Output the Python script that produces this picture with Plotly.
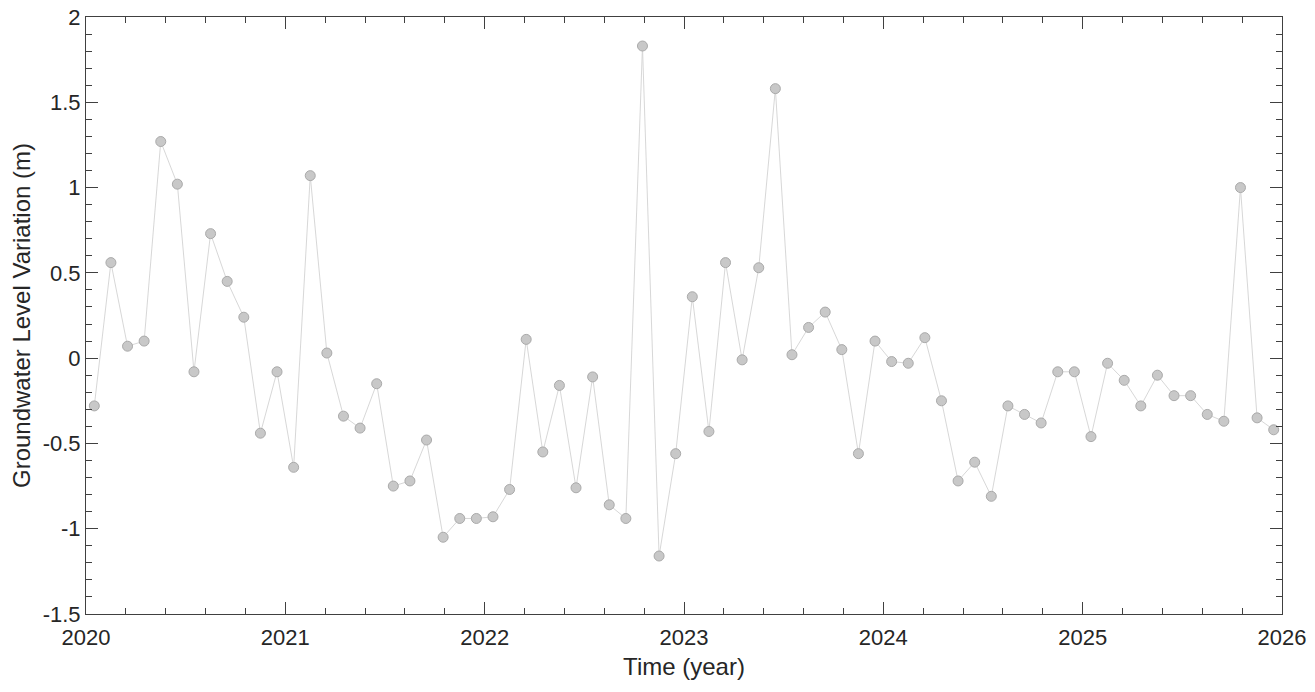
import plotly.graph_objects as go

# monthly observations, Jan 2020 - Dec 2025
years = [y for y in range(2020, 2026) for _ in range(12)]
months = list(range(1, 13)) * 6

level_2020 = [-0.28, 0.56, 0.07, 0.10, 1.27, 1.02, -0.08, 0.73, 0.45, 0.24, -0.44, -0.08]
level_2021 = [-0.64, 1.07, 0.03, -0.34, -0.41, -0.15, -0.75, -0.72, -0.48, -1.05, -0.94, -0.94]
level_2022 = [-0.93, -0.77, 0.11, -0.55, -0.16, -0.76, -0.11, -0.86, -0.94, 1.83, -1.16, -0.56]
level_2023 = [0.36, -0.43, 0.56, -0.01, 0.53, 1.58, 0.02, 0.18, 0.27, 0.05, -0.56, 0.10]
level_2024 = [-0.02, -0.03, 0.12, -0.25, -0.72, -0.61, -0.81, -0.28, -0.33, -0.38, -0.08, -0.08]
level_2025 = [-0.46, -0.03, -0.13, -0.28, -0.10, -0.22, -0.22, -0.33, -0.37, 1.00, -0.35, -0.42]

levels = level_2020 + level_2021 + level_2022 + level_2023 + level_2024 + level_2025
# mid-month position in decimal years
t = [y + (m - 0.5) / 12 for y, m in zip(years, months)]

year_ticks = [2020, 2021, 2022, 2023, 2024, 2025, 2026]
y_ticks = [-1.5, -1, -0.5, 0, 0.5, 1, 1.5, 2]
y_ticktext = ["-1.5", "-1", "-0.5", "0", "0.5", "1", "1.5", "2"]

FONT = "Liberation Sans, Arial, sans-serif"

fig = go.Figure()
fig.add_trace(go.Scatter(
    x=t, y=levels, mode="lines+markers",
    line=dict(color="#d2d2d2", width=0.9),
    marker=dict(size=10, color="#c8c8c8", line=dict(color="#aaaaaa", width=1)),
    showlegend=False,
))

axis_style = dict(
    showline=True, linecolor="#404040", linewidth=1, mirror="ticks",
    ticks="inside", ticklen=12, tickcolor="#404040", tickwidth=1,
    showgrid=False, zeroline=False, automargin=False,
    ticklabeloverflow="allow",
    tickfont=dict(family=FONT, size=22, color="#262626"),
)

fig.update_xaxes(
    range=[2020, 2026], tickvals=year_ticks, ticktext=[str(y) for y in year_ticks],
    minor=dict(ticks="inside", ticklen=6, dtick=0.2, tick0=2020, tickcolor="#404040"),
    ticklabelstandoff=4,
    title=dict(text="Time (year)", standoff=8, font=dict(family=FONT, size=24, color="#262626")),
    **axis_style,
)
fig.update_yaxes(
    range=[-1.5, 2], tickvals=y_ticks, ticktext=y_ticktext,
    minor=dict(ticks="inside", ticklen=6, dtick=0.1, tick0=0, tickcolor="#404040"),
    title=dict(text="Groundwater Level Variation (m)", standoff=12,
               font=dict(family=FONT, size=24, color="#262626")),
    **axis_style,
)

# page body adds an 8px offset, so the figure is sized to fit the window
fig.update_layout(
    width=1307, height=684,
    margin=dict(l=78, r=33, t=9, b=78),
    plot_bgcolor="white", paper_bgcolor="white",
)

fig.write_html("out.html")
